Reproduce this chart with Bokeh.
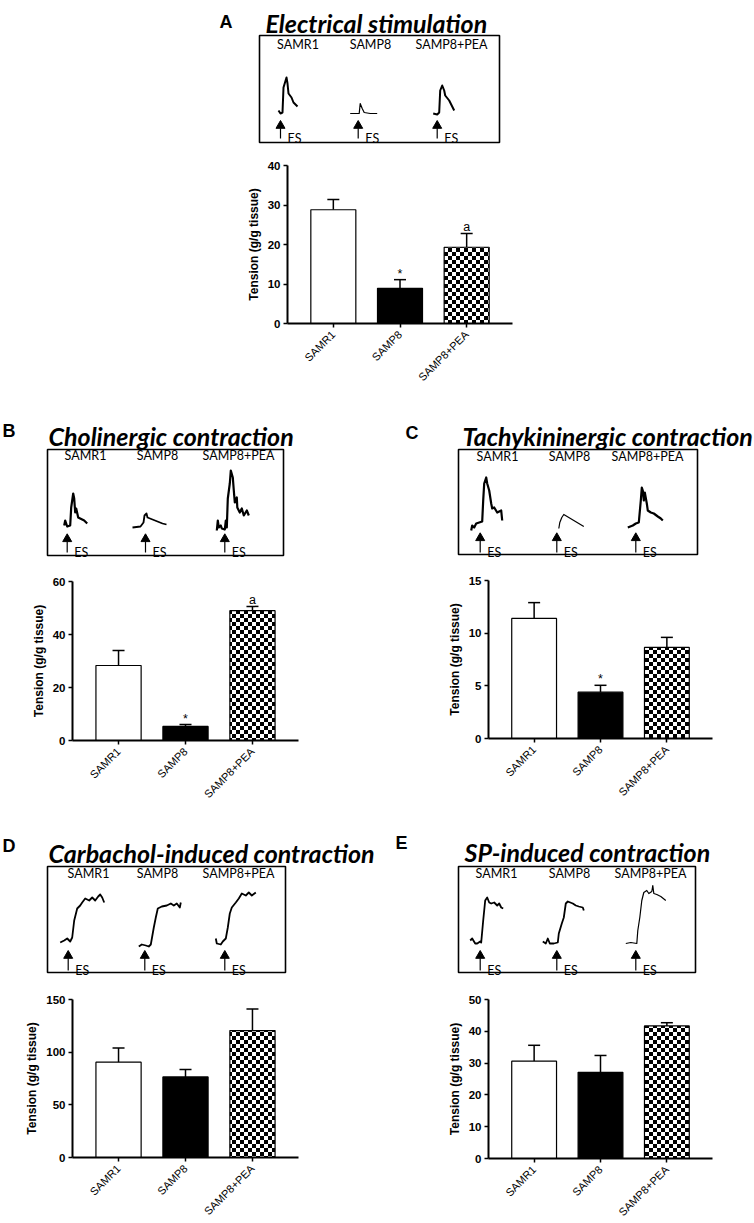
import math, zlib, struct, base64
from bokeh.plotting import figure
from bokeh.models import (ColumnDataSource, Range1d, FixedTicker, LinearAxis,
                          Whisker, TeeHead, ImageURLTexture)
from bokeh.layouts import column, row
from bokeh.core.properties import value
from bokeh.embed import file_html
from bokeh.resources import INLINE

groups = ["SAMR1", "SAMP8", "SAMP8+PEA"]

# ---- bar data (mean, SEM) ----
A_mean = [28.8, 8.9, 19.3]; A_sem = [2.6, 2.2, 3.5]; A_marks = ["", "*", "a"]
B_mean = [28.3, 5.3, 49.0]; B_sem = [5.7, 0.7, 1.6]; B_marks = ["", "*", "a"]
C_mean = [11.4, 4.4, 8.65]; C_sem = [1.5, 0.65, 0.95]; C_marks = ["", "*", ""]
D_mean = [90.5, 76.5, 120.5]; D_sem = [13.5, 7.0, 20.5]; D_marks = ["", "", ""]
E_mean = [30.6, 27.1, 41.7]; E_sem = [5.0, 5.3, 1.0]; E_marks = ["", "", ""]

A_ticks = [0, 10, 20, 30, 40]
B_ticks = [0, 20, 40, 60]
C_ticks = [0, 5, 10, 15]
D_ticks = [0, 50, 100, 150]
E_ticks = [0, 10, 20, 30, 40, 50]

titles = ["Electrical stimulation", "Cholinergic contraction",
          "Tachykininergic contraction", "Carbachol-induced contraction",
          "SP-induced contraction"]
letters = ["A", "B", "C", "D", "E"]

# ---- representative traces: time (px from stimulus) and amplitude (px) ----
A_t = [[-2, 0, 2, 3, 6, 7, 8, 11, 13, 17],
       [-8, 1, 2, 4, 6, 12, 19],
       [-4, 0, 2, 3, 5, 7, 8, 12, 17]]
A_amp = [[32, 29, 30, 55, 65, 59, 49, 45, 40, 36],
         [29, 29, 39, 34, 30, 29, 29],
         [29, 28, 30, 52, 57, 52, 47, 42, 32]]
B_t = [[-3, -2, 0, 3, 4, 6, 7, 8, 9, 11, 13, 17, 20],
       [-13, -5, -2, -1, 1, 2, 7, 12, 17, 21],
       [-8, -7, -6, -4, -3, 0, 1, 2, 3, 5, 6, 8, 9, 10, 12, 12.5, 15, 17, 19, 22, 24]]
B_amp = [[30, 35, 29, 30, 48, 62, 57, 43, 47, 38, 37, 35, 32],
         [28, 29, 33, 40, 42, 38, 36, 34, 32, 31],
         [25, 35, 28, 30, 27, 26, 35, 28, 57, 72, 85, 78, 65, 53, 58, 48, 43, 47, 40, 45, 40]]
C_t = [[-9, -8, -6, -4, -1, 2, 3, 4, 6, 7, 9, 11, 12, 14, 17, 21, 22],
       [2, 3, 5, 7, 12, 17, 22, 27],
       [-8, -3, 0, 3, 5, 6, 7, 8, 9, 11, 12, 15, 18, 22, 25, 27]]
C_amp = [[24, 29, 27, 31, 32, 33, 54, 71, 77, 71, 64, 51, 46, 47, 42, 44, 34],
         [26, 32, 37, 40, 37, 34, 31, 28],
         [27, 29, 31, 32, 54, 67, 64, 54, 62, 51, 44, 42, 41, 38, 36, 34]]
D_t = [[-8, -4, -1, 2, 4, 6, 9, 12, 14, 17, 21, 24, 27, 30, 32, 34, 36],
       [-6, -3, 1, 4, 6, 9, 11, 13, 17, 22, 26, 29, 32, 35, 36],
       [-9, -8, -4, -2, 1, 3, 5, 7, 11, 14, 17, 21, 24, 27, 31]]
D_amp = [[30, 32, 34, 31, 35, 52, 64, 67, 70, 74, 72, 75, 72, 76, 78, 75, 70],
         [26, 28, 27, 26, 28, 45, 55, 64, 66, 67, 69, 67, 69, 65, 70],
         [34, 29, 28, 31, 34, 45, 59, 65, 70, 74, 79, 77, 80, 77, 80]]
E_t = [[-10, -8, -5, -3, 0, 1, 3, 5, 7, 9, 11, 14, 17, 19, 21, 23],
       [-14, -11, -9, -7, -3, 1, 2, 5, 7, 9, 11, 16, 19, 22, 26, 27],
       [-10, -5, 1, 2, 4, 6, 8, 11, 13, 16, 17, 18, 21, 25, 30]]
E_amp = [[32, 34, 29, 29, 31, 30, 52, 72, 75, 70, 69, 70, 67, 69, 65, 64],
         [31, 29, 34, 29, 29, 30, 39, 49, 55, 69, 71, 69, 67, 66, 65, 62],
         [29, 30, 29, 42, 55, 72, 80, 82, 79, 81, 87, 79, 78, 76, 72]]


def checker_url(n=4):
    size = 2 * n
    raw = b""
    for yy in range(size):
        rowb = bytearray([0])
        for xx in range(size):
            rowb.append(0 if ((xx // n) + (yy // n)) % 2 == 0 else 255)
        raw += bytes(rowb)

    def chunk(t, d):
        c = struct.pack(">I", len(d)) + t + d
        return c + struct.pack(">I", zlib.crc32(t + d) & 0xffffffff)
    ihdr = struct.pack(">IIBBBBB", size, size, 8, 0, 0, 0, 0)
    png = (b"\x89PNG\r\n\x1a\n" + chunk(b"IHDR", ihdr) +
           chunk(b"IDAT", zlib.compress(raw)) + chunk(b"IEND", b""))
    return "data:image/png;base64," + base64.b64encode(png).decode()


CHECKER = checker_url(4)
CAL = value("Lato")
ARI = value("Liberation Sans")
PAD = 0.6875      # category padding (in category units) at each end of the x axis
BAR_W = 0.675


def panel(region, axbox, means, sems, marks, ticks,
          letter, lpos, title, tpos, tsize, box, lab_xs, lab_y,
          arr_xs, arr_top, arr_bot, tr_t, tr_amp, tr_lw):
    fx0, fx1, fy0, fy1 = region
    L, R, T, Bt = axbox
    xd0, xd1 = -PAD, len(groups) - 1 + PAD
    sx = (xd1 - xd0) / (R - L)
    sy = ticks[-1] / (Bt - T)
    xr = Range1d(xd0 - (L - fx0) * sx, xd1 + (fx1 - R) * sx)
    yr = Range1d(-(fy1 - Bt) * sy, ticks[-1] + (T - fy0) * sy)
    p = figure(width=fx1 - fx0, height=fy1 - fy0, x_range=xr, y_range=yr,
               x_axis_type=None, y_axis_type=None, toolbar_location=None,
               output_backend="svg", title=None, min_border=0,
               outline_line_color=None)
    p.extra_x_ranges = {"px": Range1d(fx0, fx1)}
    p.extra_y_ranges = {"px": Range1d(fy1, fy0)}
    kw = dict(x_range_name="px", y_range_name="px")

    # ---------- header: letter, title, trace box ----------
    p.text(x=[lpos[0]], y=[lpos[1]], text=[letter], text_font=ARI,
           text_font_style="bold", text_font_size="18px", text_baseline="alphabetic",
           text_color="black", **kw)
    p.text(x=[tpos[0]], y=[tpos[1]], text=[title], text_font=CAL,
           text_font_style="bold italic", text_font_size=tsize,
           text_baseline="alphabetic", text_color="black", **kw)
    bl, br, bt, bb = box
    p.quad(left=[bl], right=[br], top=[bt], bottom=[bb], fill_color=None,
           line_color="black", line_width=1.6, **kw)
    p.text(x=lab_xs, y=[lab_y] * 3, text=groups, text_font=CAL,
           text_font_size="12.5px", text_align="center", text_baseline="middle",
           text_color="black", **kw)
    for ax, t, a, lw in zip(arr_xs, tr_t, tr_amp, tr_lw):
        src = ColumnDataSource(dict(x=[ax + v for v in t], y=[bb - v for v in a]))
        p.line("x", "y", source=src, line_color="black", line_width=lw,
               line_join="round", **kw)
    p.scatter(x=arr_xs, y=[arr_top + 3.5] * 3, marker="triangle", size=9,
              fill_color="black", line_color="black", **kw)
    p.segment(x0=arr_xs, y0=[arr_top + 6] * 3, x1=arr_xs, y1=[arr_bot] * 3,
              line_color="black", line_width=1.2, **kw)
    p.text(x=[v + 7 for v in arr_xs], y=[arr_bot] * 3, text=["ES"] * 3,
           text_font=CAL, text_font_size="12.5px", text_baseline="alphabetic",
           text_color="black", **kw)

    # ---------- bar chart ----------
    xpos = list(range(len(groups)))
    src = ColumnDataSource(dict(
        x=xpos, top=means, upper=[m + s for m, s in zip(means, sems)],
        mark=marks, fill=["white", "black", "white"], hatch=[" ", " ", "checker"]))
    p.vbar(x="x", top="top", width=BAR_W, source=src, fill_color="fill",
           line_color="black", line_width=1.2, hatch_pattern="hatch",
           hatch_extra={"checker": ImageURLTexture(url=CHECKER)})
    w = Whisker(source=src, base="x", lower="top", upper="upper",
                line_color="black", line_width=1.5,
                upper_head=TeeHead(size=12, line_color="black", line_width=1.5),
                lower_head=None)
    p.add_layout(w)
    p.text(x="x", y="upper", text="mark", source=src, text_align="center",
           text_baseline="alphabetic", y_offset=-6, text_font=ARI,
           text_font_size="12.5px", text_color="black")

    yax = LinearAxis(ticker=FixedTicker(ticks=ticks), fixed_location=xd0,
                     bounds=(0, ticks[-1]), axis_label="Tension (g/g tissue)")
    xax = LinearAxis(ticker=FixedTicker(ticks=xpos), fixed_location=0,
                     bounds=(xd0, xd1),
                     major_label_overrides={i: g for i, g in enumerate(groups)})
    for a in (yax, xax):
        a.axis_line_width = 2
        a.axis_line_color = "black"
        a.major_tick_line_width = 1.5
        a.major_tick_line_color = "black"
        a.major_tick_out = 4
        a.major_tick_in = 0
        a.minor_tick_line_color = None
        a.major_label_text_font = "Liberation Sans"
        a.major_label_text_color = "black"
    yax.axis_label_text_font = "Liberation Sans"
    yax.axis_label_text_font_style = "bold"
    yax.axis_label_text_font_size = "12px"
    yax.axis_label_text_color = "black"
    yax.axis_label_standoff = 4
    yax.major_label_text_font_style = "bold"
    yax.major_label_text_font_size = "11.5px"
    yax.major_label_standoff = 3
    xax.major_label_text_font_size = "11px"
    xax.major_label_orientation = math.pi / 4
    p.add_layout(yax, "left")
    p.add_layout(xax, "below")
    return p


pA = panel((0, 754, 0, 390), (287, 512, 165, 323), A_mean, A_sem, A_marks, A_ticks,
           letters[0], (219, 21), titles[0], (265, 22), "25px",
           (259, 499, 35, 142), [297.5, 370, 451], 44,
           [280, 357.7, 436.7], 121.7, 138, A_t, A_amp, [2.0, 1.2, 2.0])
pB = panel((0, 377, 390, 820), (72, 298, 581, 740), B_mean, B_sem, B_marks, B_ticks,
           letters[1], (2, 430), titles[1], (48, 435), "25px",
           (47, 283, 449, 555), [85, 157, 238], 455,
           [66.7, 145, 224.3], 535, 552, B_t, B_amp, [2.2, 1.8, 2.2])
pC = panel((377, 754, 390, 820), (488, 712, 580, 738), C_mean, C_sem, C_marks, C_ticks,
           letters[2], (405, 432), titles[2], (462, 435), "25px",
           (458, 697, 449, 554), [497, 569, 647], 456,
           [479.7, 556.3, 635.3], 534, 552, C_t, C_amp, [2.2, 1.2, 2.2])
pD = panel((0, 377, 820, 1223), (72, 298, 999, 1157), D_mean, D_sem, D_marks, D_ticks,
           letters[3], (2, 845), titles[3], (48, 852), "25px",
           (47, 285, 866, 972), [88, 157, 238], 873,
           [67.7, 144.3, 224.3], 951.7, 970, D_t, D_amp, [1.8, 1.8, 1.8])
pE = panel((377, 754, 820, 1223), (488, 712, 999, 1158), E_mean, E_sem, E_marks, E_ticks,
           letters[4], (395, 842), titles[4], (464, 851), "25px",
           (458, 695, 866, 972), [496, 569, 650], 873,
           [479.7, 556.3, 635.3], 951.7, 970, E_t, E_amp, [1.8, 1.8, 1.2])

root = column(pA, row(pB, pC), row(pD, pE))

open("out.html", "w").write(file_html(root, INLINE))
